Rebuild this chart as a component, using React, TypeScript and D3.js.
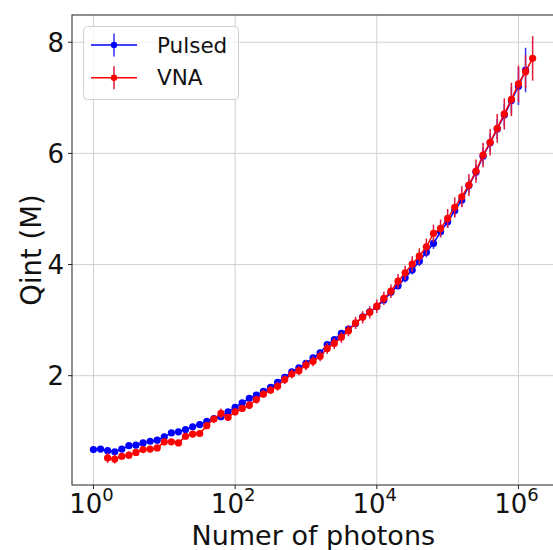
import React, { useRef, useEffect } from "react";
import * as d3 from "d3";

// photon numbers, 10 per decade
const photons = [
  1, 1.259, 1.585, 1.995, 2.512, 3.162, 3.981, 5.012, 6.31, 7.943,
  10, 12.59, 15.85, 19.95, 25.12, 31.62, 39.81, 50.12, 63.1, 79.43,
  100, 125.9, 158.5, 199.5, 251.2, 316.2, 398.1, 501.2, 631, 794.3,
  1000, 1259, 1585, 1995, 2512, 3162, 3981, 5012, 6310, 7943,
  10000, 12589, 15849, 19953, 25119, 31623, 39811, 50119, 63096, 79433,
  100000, 125893, 158489, 199526, 251189, 316228, 398107, 501187, 630957, 794328,
  1000000, 1258925, 1584893,
];

const pulsedQ = [
  0.67, 0.68, 0.65, 0.63, 0.68, 0.74, 0.75, 0.79, 0.82, 0.84,
  0.90, 0.97, 0.99, 1.03, 1.08, 1.12, 1.18, 1.23, 1.26, 1.35,
  1.43, 1.51, 1.59, 1.65, 1.72, 1.79, 1.88, 1.97, 2.07, 2.14,
  2.22, 2.32, 2.41, 2.56, 2.65, 2.76, 2.84, 2.94, 3.06, 3.15,
  3.24, 3.36, 3.50, 3.62, 3.76, 3.90, 4.06, 4.22, 4.38, 4.59,
  4.77, 4.97, 5.16, 5.42, 5.66, 5.95, 6.19, 6.44, 6.69, 6.95,
  7.21, 7.50,
];
const pulsedErr = [
  0.02, 0.02, 0.02, 0.02, 0.02, 0.02, 0.02, 0.02, 0.02, 0.02,
  0.02, 0.02, 0.02, 0.03, 0.03, 0.03, 0.03, 0.03, 0.03, 0.03,
  0.03, 0.03, 0.03, 0.03, 0.03, 0.04, 0.04, 0.04, 0.04, 0.04,
  0.04, 0.04, 0.04, 0.05, 0.05, 0.05, 0.05, 0.05, 0.06, 0.06,
  0.06, 0.06, 0.07, 0.07, 0.08, 0.08, 0.09, 0.09, 0.1, 0.1,
  0.11, 0.12, 0.12, 0.13, 0.14, 0.15, 0.16, 0.18, 0.2, 0.24,
  0.34, 0.4,
];

// VNA starts at the third photon number
const vnaQ = [
  0.52, 0.50, 0.55, 0.57, 0.62, 0.67, 0.68, 0.70, 0.81, 0.81,
  0.79, 0.91, 0.95, 0.96, 1.10, 1.22, 1.32, 1.25, 1.35, 1.41,
  1.47, 1.57, 1.67, 1.74, 1.81, 1.93, 2.03, 2.09, 2.19, 2.26,
  2.35, 2.49, 2.58, 2.69, 2.81, 2.95, 3.05, 3.14, 3.25, 3.39,
  3.52, 3.70, 3.85, 4.01, 4.15, 4.32, 4.56, 4.65, 4.83, 5.03,
  5.22, 5.43, 5.68, 5.97, 6.20, 6.45, 6.71, 6.97, 7.25, 7.47,
  7.71,
];
const vnaErr = [
  0.09, 0.08, 0.06, 0.06, 0.06, 0.06, 0.05, 0.05, 0.06, 0.05,
  0.05, 0.05, 0.05, 0.05, 0.06, 0.07, 0.09, 0.06, 0.06, 0.06,
  0.07, 0.07, 0.07, 0.07, 0.08, 0.08, 0.08, 0.08, 0.09, 0.09,
  0.09, 0.1, 0.1, 0.1, 0.1, 0.11, 0.11, 0.11, 0.12, 0.12,
  0.12, 0.13, 0.13, 0.14, 0.14, 0.15, 0.16, 0.16, 0.17, 0.18,
  0.19, 0.2, 0.21, 0.22, 0.24, 0.26, 0.28, 0.3, 0.33, 0.3,
  0.4,
];

const xTicks = [1, 100, 10000, 1000000];
const xTickExp = ["0", "2", "4", "6"];
const yTicks = [2, 4, 6, 8];

const W = 553;
const H = 550;
const FONT = "DejaVu Sans, sans-serif";

const App = () => {
  const ref = useRef(null);

  useEffect(() => {
    document.body.style.margin = "0";
    const svg = d3.select(ref.current);
    svg.selectAll("*").remove();

    const left = 72, right = 554.6, top = 15, bottom = 485;
    const x = d3.scaleLog().domain([Math.pow(10, -0.303), Math.pow(10, 6.51)]).range([left, right]);
    const y = d3.scaleLinear().domain([0.033, 8.49]).range([bottom, top]);

    svg.append("rect").attr("width", W).attr("height", H).attr("fill", "white");

    // grid
    const grid = svg.append("g").attr("stroke", "#d0d0d0").attr("stroke-width", 1);
    xTicks.forEach((t) => {
      grid.append("line").attr("x1", x(t)).attr("x2", x(t)).attr("y1", top).attr("y2", bottom);
    });
    yTicks.forEach((t) => {
      grid.append("line").attr("x1", left).attr("x2", right).attr("y1", y(t)).attr("y2", y(t));
    });

    const series = [
      { name: "Pulsed", xs: photons.slice(0, pulsedQ.length), q: pulsedQ, err: pulsedErr, color: "#0000ff", bar: "#3030ff" },
      { name: "VNA", xs: photons.slice(2), q: vnaQ, err: vnaErr, color: "#ff0000", bar: "#e0183c" },
    ];

    const plot = svg.append("g");
    series.forEach((s) => {
      const pts = s.q.map((v, i) => ({ x: s.xs[i], y: v, e: s.err[i] }));
      const g = plot.append("g");
      g.append("path")
        .datum(pts)
        .attr("fill", "none")
        .attr("stroke", s.color)
        .attr("stroke-width", 1.5)
        .attr("d", d3.line().x((d) => x(d.x)).y((d) => y(d.y)));
      g.selectAll("line.err")
        .data(pts)
        .join("line")
        .attr("x1", (d) => x(d.x))
        .attr("x2", (d) => x(d.x))
        .attr("y1", (d) => y(d.y - d.e))
        .attr("y2", (d) => y(d.y + d.e))
        .attr("stroke", s.bar)
        .attr("stroke-width", 1.5);
      g.selectAll("circle")
        .data(pts)
        .join("circle")
        .attr("cx", (d) => x(d.x))
        .attr("cy", (d) => y(d.y))
        .attr("r", 3.6)
        .attr("fill", s.color);
    });

    // frame
    svg.append("rect")
      .attr("x", left).attr("y", top)
      .attr("width", right - left).attr("height", bottom - top)
      .attr("fill", "none").attr("stroke", "#222").attr("stroke-width", 1);

    // ticks
    const ax = svg.append("g").attr("font-family", FONT).attr("fill", "#111");
    xTicks.forEach((t, i) => {
      ax.append("line").attr("x1", x(t)).attr("x2", x(t)).attr("y1", bottom).attr("y2", bottom + 4).attr("stroke", "#222");
      const txt = ax.append("text").attr("x", x(t) - 2).attr("y", 513).attr("text-anchor", "middle").attr("font-size", 26);
      txt.append("tspan").text("10");
      txt.append("tspan").attr("dy", -12).attr("font-size", 18).text(xTickExp[i]);
    });
    yTicks.forEach((t) => {
      ax.append("line").attr("x1", left - 4).attr("x2", left).attr("y1", y(t)).attr("y2", y(t)).attr("stroke", "#222");
      ax.append("text").attr("x", 64).attr("y", y(t) + 9.5).attr("text-anchor", "end").attr("font-size", 26).text(String(t));
    });

    ax.append("text")
      .attr("x", (left + right) / 2).attr("y", 545)
      .attr("text-anchor", "middle").attr("font-size", 27)
      .text("Numer of photons");
    ax.append("text")
      .attr("transform", `translate(41, ${(top + bottom) / 2}) rotate(-90)`)
      .attr("text-anchor", "middle").attr("font-size", 27.5)
      .text("Qint (M)");

    // legend
    const lg = svg.append("g");
    lg.append("rect")
      .attr("x", 83.5).attr("y", 26.5).attr("width", 155).attr("height", 73).attr("rx", 4)
      .attr("fill", "white").attr("fill-opacity", 0.8)
      .attr("stroke", "#d0d0d0");
    series.forEach((s, i) => {
      const cy = 45 + i * 32.7;
      lg.append("line").attr("x1", 91).attr("x2", 137).attr("y1", cy).attr("y2", cy).attr("stroke", s.color).attr("stroke-width", 1.5);
      lg.append("line").attr("x1", 114).attr("x2", 114).attr("y1", cy - 11.5).attr("y2", cy + 11.5).attr("stroke", s.bar).attr("stroke-width", 1.5);
      lg.append("circle").attr("cx", 114).attr("cy", cy).attr("r", 3.2).attr("fill", s.color);
      lg.append("text").attr("x", 157).attr("y", cy + 7.5)
        .attr("font-family", FONT).attr("font-size", 21.5).attr("fill", "#111")
        .text(s.name);
    });
  }, []);

  return <svg ref={ref} width={W} height={H} style={{ display: "block" }}></svg>;
};

export default App;
